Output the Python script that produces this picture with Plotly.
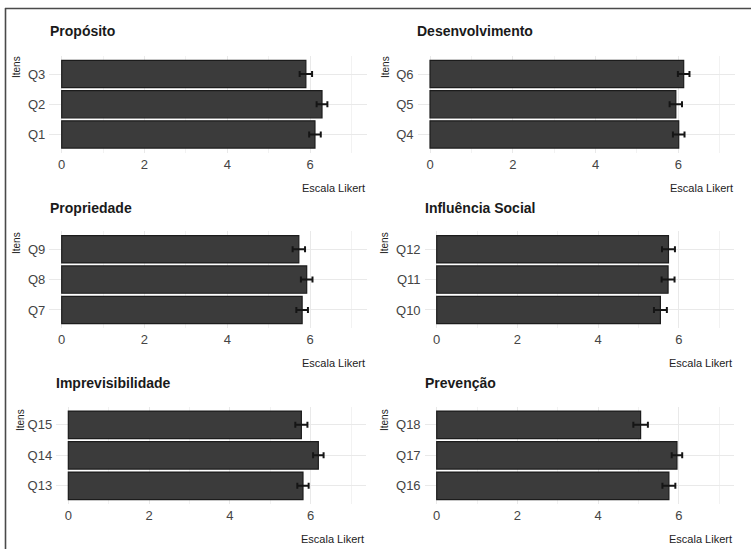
import plotly.graph_objects as go
from plotly.subplots import make_subplots

# Itens por dimensão: médias na escala Likert e erro padrão
titulos = ["Propósito", "Desenvolvimento", "Propriedade",
           "Influência Social", "Imprevisibilidade", "Prevenção"]
itens = [["Q1", "Q2", "Q3"], ["Q4", "Q5", "Q6"], ["Q7", "Q8", "Q9"],
         ["Q10", "Q11", "Q12"], ["Q13", "Q14", "Q15"], ["Q16", "Q17", "Q18"]]
medias = [[6.12, 6.29, 5.90], [6.01, 5.94, 6.13], [5.81, 5.92, 5.73],
          [5.54, 5.73, 5.74], [5.81, 6.19, 5.77], [5.75, 5.95, 5.05]]
erros = [[0.14, 0.13, 0.15], [0.14, 0.15, 0.14], [0.14, 0.14, 0.15],
         [0.16, 0.16, 0.16], [0.14, 0.13, 0.15], [0.16, 0.13, 0.18]]
x_ticks = [0, 2, 4, 6]

W, H = 751, 549
FONT = "Liberation Sans, Arial, Helvetica, sans-serif"

# Panel boxes in pixels: (left, right, top, bottom)
caixas = [
    (49.3, 366.7, 55.9, 152.6),
    (417.6, 735.0, 55.9, 152.6),
    (49.3, 366.7, 231.0, 328.2),
    (424.6, 734.3, 231.0, 328.2),
    (56.2, 366.0, 406.5, 504.1),
    (424.6, 734.3, 406.5, 504.1),
]
# Title left edge / vertical centre, y-title centre (px)
pos_titulo = [(48, 31), (415, 31), (48, 208), (423, 208), (54, 383), (423, 383)]
pos_itens = [(16, 67), (385, 67), (16, 243), (384, 243), (20, 420), (384, 420)]


def px(x):
    return x / W


def py(y):
    return 1 - y / H


fig = make_subplots(rows=3, cols=2)

for i in range(6):
    r, c = i // 2 + 1, i % 2 + 1
    fig.add_trace(
        go.Bar(
            x=medias[i], y=itens[i], orientation="h", width=0.9,
            marker=dict(color="#3b3b3b", line=dict(color="#1c1c1c", width=1.2)),
            error_x=dict(type="data", array=erros[i], color="#151515",
                         thickness=2, width=3),
            showlegend=False, hoverinfo="x+y",
        ),
        row=r, col=c,
    )

layout_axes = {}
for i, (l, rr, t, b) in enumerate(caixas):
    sfx = "" if i == 0 else str(i + 1)
    layout_axes["xaxis" + sfx] = dict(
        domain=[px(l), px(rr)], range=[-0.3, 7.37],
        tickvals=x_ticks, ticktext=[str(v) for v in x_ticks],
        showgrid=True, gridcolor="#e9e9e9", gridwidth=1,
        minor=dict(dtick=1, tick0=1, showgrid=True, gridcolor="#f2f2f2", gridwidth=1),
        zeroline=False, showline=False, ticks="",
        tickfont=dict(family=FONT, size=13, color="#444444"),
        ticklabelstandoff=2,
    )
    layout_axes["yaxis" + sfx] = dict(
        domain=[py(b), py(t)], type="category",
        categoryorder="array", categoryarray=itens[i], range=[-0.6, 2.6],
        showgrid=True, gridcolor="#e9e9e9", gridwidth=1,
        zeroline=False, showline=False, ticks="",
        tickfont=dict(family=FONT, size=13, color="#444444"),
        ticklabelstandoff=3,
    )
fig.update_layout(**layout_axes)

anots = []
for i in range(6):
    l, rr, t, b = caixas[i]
    tx, ty = pos_titulo[i]
    anots.append(dict(
        text="<b>" + titulos[i] + "</b>", x=px(tx), y=py(ty),
        xref="paper", yref="paper", xanchor="left", yanchor="middle",
        showarrow=False, font=dict(family=FONT, size=14, color="#1a1a1a"),
    ))
    anots.append(dict(
        text="Escala Likert", x=px(rr), y=py(b + 35),
        xref="paper", yref="paper", xanchor="right", yanchor="middle",
        showarrow=False, font=dict(family=FONT, size=11, color="#222222"),
    ))
    ix, iy = pos_itens[i]
    anots.append(dict(
        text="Itens", x=px(ix), y=py(iy), textangle=-90,
        xref="paper", yref="paper", xanchor="center", yanchor="middle",
        showarrow=False, font=dict(family=FONT, size=10, color="#222222"),
    ))

fig.update_layout(
    width=W, height=H,
    margin=dict(l=0, r=0, t=0, b=0),
    paper_bgcolor="white", plot_bgcolor="white",
    annotations=anots,
    bargap=0.1,
    shapes=[
        dict(type="line", xref="paper", yref="paper",
             x0=px(5), x1=1, y0=py(8.5), y1=py(8.5),
             line=dict(color="#4a4a4a", width=1.6)),
        dict(type="line", xref="paper", yref="paper",
             x0=px(5.5), x1=px(5.5), y0=py(8), y1=0,
             line=dict(color="#4a4a4a", width=1.6)),
    ],
)

fig.write_html("out.html")
